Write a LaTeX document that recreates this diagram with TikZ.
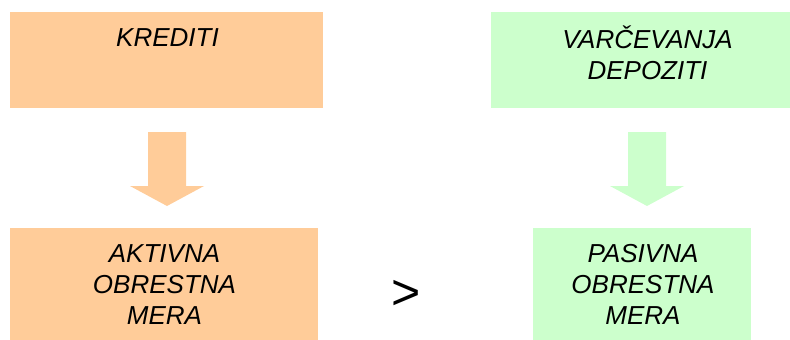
\documentclass[tikz,border=0pt]{standalone}
\usepackage{fontspec}
\setmainfont{Liberation Sans}
\definecolor{peach}{HTML}{FFCC99}
\definecolor{mint}{HTML}{CCFFCC}
\begin{document}
\begin{tikzpicture}[x=1pt,y=-1pt,
  box/.style={inner sep=0pt, outer sep=0pt},
  lbl/.style={font=\fontsize{26}{31}\selectfont\itshape, align=center, inner sep=0pt, text depth=0pt}
]
\useasboundingbox (0,0) rectangle (790,340);
% boxes
\fill[peach] (10,12) rectangle (323,108);
\node[box, minimum width=313pt, minimum height=96pt] (kred) at (166.5,60) {};
\fill[mint] (491,12) rectangle (790,108);
\node[box, minimum width=299pt, minimum height=96pt] (varc) at (640.5,60) {};
\fill[peach] (10,228) rectangle (318,340);
\node[box, minimum width=308pt, minimum height=112pt] (akt) at (164,284) {};
\fill[mint] (533,228) rectangle (751,340);
\node[box, minimum width=218pt, minimum height=112pt] (pas) at (642,284) {};
% texts
\node[lbl, anchor=center] (tkred) at (167.5,38) {KREDITI};
\node[lbl, anchor=center] (tvarc) at (647.5,53) {VARČEVANJA\\DEPOZITI};
\node[lbl, anchor=center] (takt) at (164.5,284.5) {AKTIVNA\\OBRESTNA\\MERA};
\node[lbl, anchor=center] (tpas) at (643,284.5) {PASIVNA\\OBRESTNA\\MERA};
\node[inner sep=0pt, font=\fontsize{50}{50}\selectfont] (gt) at (406,295) {>};
% block arrows
\fill[peach] (148,132) -- (186,132) -- (186,186) -- (204,186) -- (167,206) -- (130,186) -- (148,186) -- cycle;
\fill[mint] (628,132) -- (666,132) -- (666,186) -- (684,186) -- (647,206) -- (610,186) -- (628,186) -- cycle;
\end{tikzpicture}
\end{document}
